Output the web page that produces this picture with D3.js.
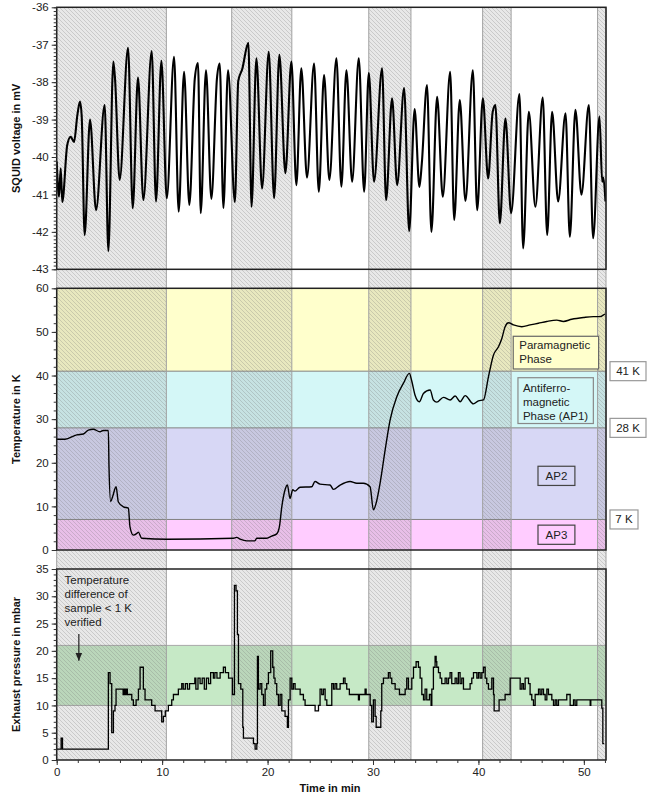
<!DOCTYPE html>
<html>
<head>
<meta charset="utf-8">
<script src="https://cdn.jsdelivr.net/npm/d3@7"></script>
<style>
  body { margin: 0; background: #fff; }
  svg { font-family: "Liberation Sans", Arial, sans-serif; }
</style>
</head>
<body>
<div id="chart"></div>
<script>
// ---- data ----
// hatched time windows (min)
var bandStart = [0, 16.6, 29.6, 40.4, 51.3];
var bandEnd   = [10.4, 22.3, 33.6, 43.1, 52.1];

// SQUID voltage (mV), peaks and troughs
var squidTime = [0, 0.22, 0.38, 0.53, 1.0, 1.33, 1.64, 1.96, 2.21, 2.37, 2.65, 3.16, 3.73, 4.55, 4.9,
  5.37, 5.53, 5.97, 6.77, 7.21, 7.71, 8.22, 9.01, 9.42, 9.93, 10.44, 11.13, 11.57, 12.08, 12.58,
  13.1, 13.4, 13.66, 14.16, 14.67, 15.2, 15.46, 15.81, 16.25, 16.9, 17.22, 17.6, 18.18, 18.48,
  18.94, 19.48, 20.11, 20.62, 21.12, 21.69, 22.26, 22.73, 23.2, 23.74, 24.41, 24.86, 25.36, 25.86,
  26.53, 27.0, 27.48, 28.02, 28.65, 29.16, 29.6, 30.1, 30.86, 31.24, 31.81, 32.29, 32.95, 33.43,
  33.95, 34.4, 34.63, 35.12, 35.54, 36.08, 36.62, 37.32, 37.7, 38.23, 38.77, 39.47, 39.88, 40.42,
  40.92, 41.35, 41.61, 42.03, 42.56, 43.1, 43.89, 44.24, 44.78, 45.4, 46.1, 46.52, 46.99, 47.56,
  48.26, 48.67, 49.2, 49.77, 50.47, 50.88, 51.48, 51.74, 51.85, 52.05];
var squidVolt = [-40.12, -41.06, -40.3, -41.2, -39.68, -39.46, -39.6, -38.88, -38.52, -38.9, -42.08, -39.0, -41.42, -38.61, -42.51,
  -37.45, -37.9, -40.61, -37.08, -41.37, -37.88, -41.15, -37.17, -41.19, -37.43, -41.1, -37.32, -41.46, -37.72, -41.28,
  -37.9, -37.49, -41.5, -37.68, -41.12, -37.9, -37.5, -41.36, -37.68, -41.2, -37.97, -37.65, -36.95, -41.33,
  -37.36, -40.84, -37.19, -41.1, -37.27, -40.43, -37.45, -40.75, -37.63, -40.55, -37.5, -40.93, -37.81, -40.61,
  -37.36, -40.79, -37.68, -40.66, -37.36, -40.93, -37.76, -40.66, -37.63, -41.15, -38.43, -40.75, -38.16, -41.98,
  -38.72, -40.8, -40.17, -38.08, -42.0, -38.39, -41.06, -37.72, -41.68, -38.48, -41.17, -37.68, -41.42, -38.43,
  -40.57, -38.8, -38.61, -41.77, -38.97, -41.5, -38.32, -42.44, -38.79, -41.33, -38.41, -42.08, -38.79, -41.19,
  -38.83, -42.13, -38.74, -41.01, -38.61, -42.17, -38.92, -40.66, -40.55, -41.19];

// sample temperature (K)
var tempTime = [0, 0.79, 1.9, 2.53, 3.0, 3.47, 4.1, 4.4, 4.9, 4.96, 5.12, 5.3, 5.63, 5.85, 6.32, 6.8, 6.95,
  7.27, 7.6, 7.75, 8.06, 10.44, 16.76, 17.07, 17.4, 18.03, 18.8, 18.97, 19.92, 20.4, 20.87, 21.12, 21.35,
  21.66, 21.88, 22.13, 22.39, 22.6, 23.08, 24.19, 24.5, 24.98, 25.93, 26.24, 26.88, 27.83, 28.46, 29.09,
  29.72, 30.04, 30.29, 30.67, 31.15, 31.62, 32.25, 32.88, 33.45, 33.67, 33.99, 34.4, 34.78, 35.42, 35.73,
  36.05, 36.68, 37.32, 37.79, 38.27, 38.74, 39.53, 40.0, 40.48, 40.95, 41.43, 41.9, 42.22, 42.53, 42.85,
  43.32, 44.11, 44.9, 45.69, 46.48, 47.43, 48.06, 48.85, 49.96, 50.9, 51.53, 52.0];
var tempK = [25.4, 25.4, 26.4, 26.6, 27.5, 27.7, 27.1, 27.4, 27.4, 19.1, 11.1, 12.2, 14.5, 11.0, 9.9, 9.6, 5.3,
  3.4, 3.8, 4.1, 2.7, 2.45, 2.7, 2.9, 2.5, 2.1, 2.1, 2.7, 2.7, 3.2, 3.7, 5.3, 9.9,
  13.8, 14.9, 11.8, 13.8, 13.5, 14.4, 14.5, 15.7, 15.1, 14.9, 13.9, 14.9, 15.7, 15.3, 15.3,
  14.5, 9.2, 10.7, 15.3, 22.9, 29.8, 35.1, 38.2, 40.5, 38.8, 35.5, 34.0, 35.9, 36.7, 34.4,
  33.9, 35.0, 34.4, 35.3, 34.0, 35.4, 33.5, 34.2, 34.4, 39.7, 44.7, 46.6, 48.5, 51.2, 52.1,
  51.6, 51.2, 51.6, 52.0, 52.4, 52.7, 52.4, 52.9, 53.3, 53.5, 53.5, 54.1];
var phaseBounds = [0, 7, 28, 41, 60];

// exhaust pressure (mbar), stepwise readings
var presTime = [0, 0.42, 0.55, 4.9, 5.06, 5.22, 5.38, 5.53, 5.63, 6.3, 6.4, 6.5, 6.6, 6.7, 6.8, 7.12, 7.27,
  7.53, 7.75, 7.91, 8.22, 8.38, 9.01, 9.33, 9.96, 10.12, 10.3, 10.59, 10.91, 11.07, 11.54, 11.86, 12.0,
  12.2, 12.4, 12.6, 13.1, 13.2, 13.4, 13.6, 13.8, 14.0, 14.2, 14.4, 14.6, 14.86, 15.0, 15.2, 15.5,
  15.81, 16.0, 16.3, 16.67, 16.86, 17.01, 17.14, 17.24, 17.46, 17.65, 17.71, 18.66, 18.82, 18.98,
  19.04, 19.13, 19.29, 19.45, 19.61, 19.77, 19.92, 20.08, 20.3, 20.49, 20.6, 20.71, 20.87, 21.03,
  21.19, 21.35, 21.66, 21.88, 21.98, 22.14, 22.3, 22.45, 22.61, 23.09, 23.4, 23.56, 24.51, 24.83,
  24.98, 25.14, 25.3, 25.46, 25.62, 26.09, 26.25, 26.4, 26.56, 26.88, 27.2, 27.35, 27.51, 27.76,
  28.62, 28.71, 29.25, 29.35, 29.73, 29.88, 30.04, 30.2, 30.3, 30.74, 30.83, 30.99, 31.46, 31.62,
  31.78, 32.1, 32.51, 33.05, 33.2, 33.36, 33.68, 33.84, 34.09, 34.31, 34.47, 34.63, 34.79, 34.94,
  35.1, 35.35, 35.51, 35.58, 35.73, 35.89, 35.99, 36.05, 36.21, 36.37, 36.52, 36.84, 37.0, 37.16,
  37.31, 37.47, 37.79, 37.95, 38.1, 38.26, 38.42, 38.58, 39.21, 39.37, 39.53, 39.85, 40.0, 40.16,
  40.32, 40.48, 40.64, 40.79, 40.95, 41.27, 41.43, 41.49, 41.96, 42.53, 43.01, 43.96, 44.12, 44.27,
  44.43, 44.75, 44.9, 45.06, 45.22, 45.38, 45.7, 45.85, 46.01, 46.17, 46.33, 46.49, 46.64, 46.96,
  47.12, 47.28, 47.43, 47.59, 48.38, 48.45, 48.7, 49.02, 49.17, 49.33, 50.6, 50.66, 51.7, 51.8,
  51.93, 52.05];
var presMbar = [2, 4, 2, 16, 14, 5, 9, 10, 13, 12, 13, 12, 13, 12, 12, 11, 10,
  11, 13, 17, 13, 11, 10, 9, 7, 8, 9, 10, 11, 12, 13, 14, 13,
  14, 13, 14, 15, 13, 15, 14, 15, 13, 15, 14, 16, 15, 16, 15, 16,
  17, 16, 15, 12, 32, 31, 23, 14, 13, 6, 4, 3, 2, 3,
  19, 13, 14, 12, 10, 13, 14, 16, 20, 17, 15, 14, 12, 10,
  12, 9, 8, 6, 11, 15, 13, 14, 13, 12, 11, 10, 9, 10,
  13, 12, 13, 11, 10, 14, 13, 14, 13, 14, 15, 14, 13, 12,
  11, 12, 13, 12, 10, 7, 11, 8, 6, 9, 14, 15, 16, 15,
  14, 13, 12, 13, 15, 13, 15, 17, 18, 17, 15, 12, 11, 13,
  11, 12, 10, 13, 17, 19, 18, 17, 16, 15, 14, 15, 14, 15,
  16, 14, 15, 14, 16, 14, 15, 13, 14, 15, 16, 15, 16, 15,
  16, 17, 15, 14, 13, 15, 12, 9, 11, 12, 15, 13, 14, 13,
  15, 14, 12, 11, 10, 12, 13, 12, 13, 12, 11, 13, 12,
  11, 10, 11, 10, 11, 12, 12, 10, 11, 10, 11, 10, 11, 9.5,
  3, 3];
var okPressure = [10, 21];

// ---- layout ----
var svgWidth = 662, svgHeight = 798;
var left = 56.7, right = 606;
var panels = [
  { top: 7.3, bottom: 269.3 },
  { top: 288.3, bottom: 550 },
  { top: 569, bottom: 760 }
];

var svg = d3.select("#chart").append("svg")
  .attr("width", svgWidth)
  .attr("height", svgHeight);

var defs = svg.append("defs");
var hatch = defs.append("pattern")
  .attr("id", "hatch")
  .attr("patternUnits", "userSpaceOnUse")
  .attr("width", 4).attr("height", 4);
hatch.append("rect").attr("width", 4).attr("height", 4).attr("fill", "rgba(140,140,140,0.2)");
hatch.append("path")
  .attr("d", "M-1,-1L5,5M-1,3L1,5M3,-1L5,1")
  .attr("stroke", "rgba(110,110,110,0.28)")
  .attr("stroke-width", 0.9);

panels.forEach(function(p, i) {
  defs.append("clipPath").attr("id", "clip" + i)
    .append("rect").attr("x", left).attr("y", p.top)
    .attr("width", right - left).attr("height", p.bottom - p.top);
});

var x = d3.scaleLinear().domain([0, 52.1]).range([left, right]);
var yS = d3.scaleLinear().domain([-43, -36]).range([panels[0].bottom, panels[0].top]);
var yT = d3.scaleLinear().domain([0, 60]).range([panels[1].bottom, panels[1].top]);
var yP = d3.scaleLinear().domain([0, 35]).range([panels[2].bottom, panels[2].top]);

// coloured phase bands in the temperature panel
var phaseFill = ["#ffccff", "#d7d7f5", "#d4f7f7", "#ffffcc"];
var phaseG = svg.append("g");
for (var i = 0; i < phaseBounds.length - 1; i++) {
  phaseG.append("rect")
    .attr("x", left).attr("width", right - left)
    .attr("y", yT(phaseBounds[i + 1]))
    .attr("height", yT(phaseBounds[i]) - yT(phaseBounds[i + 1]))
    .attr("fill", phaseFill[i]);
}
phaseBounds.slice(1, 4).forEach(function(b) {
  phaseG.append("line")
    .attr("x1", left).attr("x2", right)
    .attr("y1", yT(b)).attr("y2", yT(b))
    .attr("stroke", "#808080").attr("stroke-width", 1);
});

// green pressure window
svg.append("rect")
  .attr("x", left).attr("width", right - left)
  .attr("y", yP(okPressure[1]))
  .attr("height", yP(okPressure[0]) - yP(okPressure[1]))
  .attr("fill", "#c6e9c6");
okPressure.forEach(function(b) {
  svg.append("line")
    .attr("x1", left).attr("x2", right)
    .attr("y1", yP(b)).attr("y2", yP(b))
    .attr("stroke", "#a8a8a8").attr("stroke-width", 1);
});

// hatched time windows across all panels
var bandG = svg.append("g");
bandStart.forEach(function(s, i) {
  bandG.append("rect")
    .attr("x", x(s)).attr("width", x(bandEnd[i]) - x(s))
    .attr("y", panels[0].top).attr("height", panels[2].bottom - panels[0].top)
    .attr("fill", "url(#hatch)");
  [s, bandEnd[i]].forEach(function(e) {
    bandG.append("line")
      .attr("x1", x(e)).attr("x2", x(e))
      .attr("y1", panels[0].top).attr("y2", panels[2].bottom)
      .attr("stroke", "#a0a0a0").attr("stroke-width", 1);
  });
});

// ---- lines ----
var squidLine = d3.line()
  .x(function(d, i) { return x(squidTime[i]); })
  .y(function(d) { return yS(d); })
  .curve(d3.curveMonotoneX);
svg.append("path")
  .attr("clip-path", "url(#clip0)")
  .attr("d", squidLine(squidVolt))
  .attr("fill", "none").attr("stroke", "#000").attr("stroke-width", 2.1)
  .attr("stroke-linejoin", "round");

var tempLine = d3.line()
  .x(function(d, i) { return x(tempTime[i]); })
  .y(function(d) { return yT(d); })
  .curve(d3.curveMonotoneX);
svg.append("path")
  .attr("clip-path", "url(#clip1)")
  .attr("d", tempLine(tempK))
  .attr("fill", "none").attr("stroke", "#000").attr("stroke-width", 1.4);

var presLine = d3.line()
  .x(function(d, i) { return x(presTime[i]); })
  .y(function(d) { return yP(d); })
  .curve(d3.curveStepAfter);
svg.append("path")
  .attr("clip-path", "url(#clip2)")
  .attr("d", presLine(presMbar))
  .attr("fill", "none").attr("stroke", "#000").attr("stroke-width", 1.3);

// ---- frames and axes ----
panels.forEach(function(p) {
  svg.append("rect")
    .attr("x", left).attr("y", p.top)
    .attr("width", right - left).attr("height", p.bottom - p.top)
    .attr("fill", "none").attr("stroke", "#222").attr("stroke-width", 1.5);
});

function leftAxis(scale, major, minorStep) {
  var d = scale.domain();
  var minor = d3.range(d[0], d[1] + minorStep / 2, minorStep);
  var g = svg.append("g").attr("transform", "translate(" + left + ",0)");
  g.append("g")
    .call(d3.axisLeft(scale).tickValues(minor).tickSize(3).tickFormat(""))
    .call(function(s) { s.select(".domain").remove(); s.selectAll("line").attr("stroke", "#333"); });
  g.append("g")
    .call(d3.axisLeft(scale).tickValues(major).tickSize(5).tickPadding(3).tickFormat(function(v) { return String(v); }))
    .call(function(s) {
      s.select(".domain").remove();
      s.selectAll("line").attr("stroke", "#333");
      s.selectAll("text").attr("font-size", 11.5).attr("fill", "#222")
        .attr("font-family", "Liberation Sans, Arial, sans-serif");
    });
}
leftAxis(yS, d3.range(-43, -35), 0.1);
leftAxis(yT, d3.range(0, 61, 10), 2);
leftAxis(yP, d3.range(0, 36, 5), 1);

var xg = svg.append("g").attr("transform", "translate(0," + panels[2].bottom + ")");
xg.append("g")
  .call(d3.axisBottom(x).tickValues(d3.range(0, 53, 2)).tickSize(3).tickFormat(""))
  .call(function(s) { s.select(".domain").remove(); s.selectAll("line").attr("stroke", "#333"); });
xg.append("g")
  .call(d3.axisBottom(x).tickValues(d3.range(0, 51, 10)).tickSize(5).tickPadding(3))
  .call(function(s) {
    s.select(".domain").remove();
    s.selectAll("line").attr("stroke", "#333");
    s.selectAll("text").attr("font-size", 11.5).attr("fill", "#222")
      .attr("font-family", "Liberation Sans, Arial, sans-serif");
  });

// axis titles
function yTitle(text, p) {
  svg.append("text")
    .attr("transform", "translate(20," + ((p.top + p.bottom) / 2) + ") rotate(-90)")
    .attr("text-anchor", "middle")
    .attr("font-size", 11).attr("font-weight", "bold").attr("fill", "#111")
    .text(text);
}
yTitle("SQUID voltage in mV", panels[0]);
yTitle("Temperature in K", panels[1]);
yTitle("Exhaust pressure in mbar", panels[2]);
svg.append("text")
  .attr("x", 330).attr("y", 792)
  .attr("text-anchor", "middle")
  .attr("font-size", 11).attr("font-weight", "bold").attr("fill", "#111")
  .text("Time in min");

// ---- annotations ----
function box(x0, y0, w, h, fill, stroke) {
  svg.append("rect")
    .attr("x", x0).attr("y", y0).attr("width", w).attr("height", h)
    .attr("fill", fill).attr("stroke", stroke).attr("stroke-width", 1.2);
}
function lines(x0, y0, arr, anchor) {
  var t = svg.append("text")
    .attr("font-size", 11.5).attr("fill", "#222")
    .attr("text-anchor", anchor || "start");
  arr.forEach(function(s, i) {
    t.append("tspan").attr("x", x0).attr("y", y0 + i * 14).text(s);
  });
}

box(x(43.3), yT(49), x(51.4) - x(43.3), yT(41.5) - yT(49), "#ffffcc", "#666");
lines(x(43.3) + 6, yT(49) + 13, ["Paramagnetic", "Phase"]);

box(x(43.75), yT(39.5), x(50.9) - x(43.75), yT(29) - yT(39.5), "#d4f7f7", "#888");
lines(x(43.75) + 5, yT(39.5) + 14, ["Antiferro-", "magnetic", "Phase (AP1)"]);

box(x(45.65), yT(19.2), x(49.15) - x(45.65), yT(14.8) - yT(19.2), "#d7d7f5", "#444");
lines((x(45.65) + x(49.15)) / 2, yT(17) + 4, ["AP2"], "middle");

box(x(45.65), yT(5.7), x(49.15) - x(45.65), yT(1.3) - yT(5.7), "#ffccff", "#444");
lines((x(45.65) + x(49.15)) / 2, yT(3.5) + 4, ["AP3"], "middle");

// phase limit tags outside the plot
[41, 28, 7].forEach(function(k) {
  var w = k < 10 ? 28 : 36;
  box(right + 4, yT(k) - 9.5, w, 19, "#fff", "#999");
  lines(right + 4 + w / 2, yT(k) + 4, [k + " K"], "middle");
});

// pressure note with arrow
lines(x(0.75), yP(33) + 4, ["Temperature", "difference of", "sample < 1 K", "verified"]);
defs.append("marker").attr("id", "arrow")
  .attr("viewBox", "0 0 10 10").attr("refX", 9).attr("refY", 5)
  .attr("markerWidth", 7).attr("markerHeight", 7).attr("orient", "auto")
  .append("path").attr("d", "M0,1L9,5L0,9Z").attr("fill", "#222");
svg.append("line")
  .attr("x1", x(2.1)).attr("x2", x(2.1))
  .attr("y1", yP(23.1)).attr("y2", yP(18.2))
  .attr("stroke", "#222").attr("stroke-width", 1.2)
  .attr("marker-end", "url(#arrow)");
</script>
</body>
</html>
